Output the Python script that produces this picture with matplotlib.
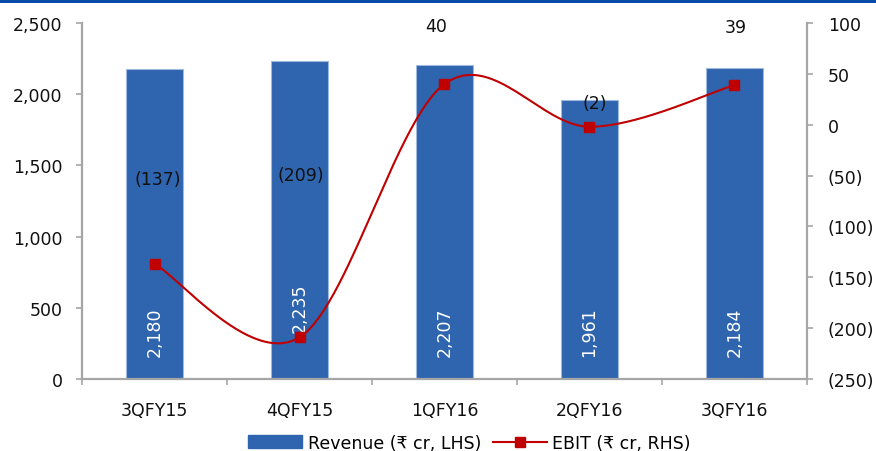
import numpy as np
import matplotlib
matplotlib.use("Agg")
import matplotlib.pyplot as plt
from matplotlib.lines import Line2D
from matplotlib.patches import Patch, Rectangle

plt.rcParams['font.family'] = ['DejaVu Sans', 'Noto Sans']

# Data
quarters = ["3QFY15", "4QFY15", "1QFY16", "2QFY16", "3QFY16"]
revenue = [2180, 2235, 2207, 1961, 2184]          # ₹ cr, left axis
ebit = [-137, -209, 40, -2, 39]                   # ₹ cr, right axis
left_ticks = [0, 500, 1000, 1500, 2000, 2500]
right_ticks = [-250, -200, -150, -100, -50, 0, 50, 100]

BAR = "#2F64AE"
LINE = "#C00000"
GRID = "#A6A6A6"
FS = 12.5


def fmt_num(v):
    return f"({abs(v):,})" if v < 0 else f"{v:,}"


def smooth(xs, ys, n=60):
    """Catmull-Rom style smoothing through every point (Bezier form)."""
    P = np.column_stack([xs, ys]).astype(float)
    out = []
    for i in range(len(P) - 1):
        p0 = P[i - 1] if i > 0 else P[i]
        p1, p2 = P[i], P[i + 1]
        p3 = P[i + 2] if i + 2 < len(P) else P[i + 1]
        c1 = p1 + (p2 - p0) / 6.0
        c2 = p2 - (p3 - p1) / 6.0
        t = np.linspace(0, 1, n)[:, None]
        seg = ((1 - t) ** 3) * p1 + 3 * ((1 - t) ** 2) * t * c1 + 3 * (1 - t) * t ** 2 * c2 + t ** 3 * p2
        out.append(seg if i == 0 else seg[1:])
    seg = np.vstack(out)
    return seg[:, 0], seg[:, 1]


fig = plt.figure(figsize=(8.76, 4.52), dpi=100)
ax = fig.add_axes([82 / 876, 1 - 380 / 452, (807 - 82) / 876, (380 - 24) / 452])
ax2 = ax.twinx()

x = np.arange(len(quarters))

# Revenue bars
bars = ax.bar(x, revenue, width=0.39, color=BAR, edgecolor="#9DB9E0", linewidth=0.8, zorder=2)
ax.set_xlim(-0.5, len(quarters) - 0.5)
ax.set_ylim(0, 2500)
ax.set_yticks(left_ticks)
ax.set_yticklabels([f"{t:,}" for t in left_ticks])

# Revenue labels inside bars (rotated)
rev_label_y = [337, 505, 337, 337, 337]
for xi, v, ly in zip(x, revenue, rev_label_y):
    ax.text(xi, ly, fmt_num(v), rotation=90, ha="center", va="center",
            color="white", fontsize=FS, zorder=4)

# EBIT smoothed line with square markers
sx, sy = smooth(x, ebit)
ax2.plot(sx, sy, color=LINE, lw=1.5, zorder=3)
ax2.plot(x, ebit, ls="none", marker="s", ms=6.5, color=LINE, zorder=4)
ax2.set_ylim(-250, 100)
ax2.set_yticks(right_ticks)
ax2.set_yticklabels([fmt_num(t) for t in right_ticks])

ebit_offsets = [(2, 61), (1, 117), (-6, 42), (4, 17), (1, 42)]
for xi, v, off in zip(x, ebit, ebit_offsets):
    ax2.annotate(fmt_num(v), (xi, v), xytext=off, textcoords="offset points",
                 ha="center", va="center", fontsize=FS, color="#111111", zorder=5)

# Axes styling
for a in (ax, ax2):
    a.spines["top"].set_visible(False)
    for s in ("left", "right", "bottom"):
        a.spines[s].set_color(GRID)
        a.spines[s].set_linewidth(1.6)
ax.spines["right"].set_visible(False)
ax2.spines["left"].set_visible(False)
ax2.spines["bottom"].set_visible(False)

ax.tick_params(axis="y", direction="out", length=4.5, width=1.2, color=GRID,
               labelsize=FS, pad=9.5, labelcolor="#111111")
ax2.tick_params(axis="y", direction="out", length=4.5, width=1.2, color=GRID,
                labelsize=FS, pad=10.5, labelcolor="#111111")

# Category boundaries as major ticks, names as minor labels
ax.set_xticks(np.arange(-0.5, len(quarters), 1.0))
ax.set_xticklabels([])
ax.set_xticks(x, minor=True)
ax.set_xticklabels(quarters, minor=True)
ax.tick_params(axis="x", which="major", direction="out", length=4, width=1.2, color=GRID)
ax.tick_params(axis="x", which="minor", length=0, labelsize=FS, pad=16, labelcolor="#111111")

ax.set_zorder(1)
ax2.set_zorder(2)
ax.patch.set_visible(False)

# Legend
handles = [
    Patch(facecolor=BAR, edgecolor=BAR),
    Line2D([0], [0], color=LINE, lw=1.5, marker="s", ms=6.5),
]
labels = ["Revenue (₹ cr, LHS)", "EBIT (₹ cr, RHS)"]
fig.legend(handles, labels, loc="center", bbox_to_anchor=(0.536, 0.018), ncol=2,
           frameon=False, fontsize=FS, handlelength=3.1, handleheight=0.8,
           handletextpad=0.3, columnspacing=0.7, borderaxespad=0)

# Top rule
fig.add_artist(Rectangle((0, 1 - 4 / 452), 1, 4 / 452, transform=fig.transFigure,
                         facecolor="#0A4AA8", edgecolor="none"))

fig.savefig("out.png", dpi=100)
